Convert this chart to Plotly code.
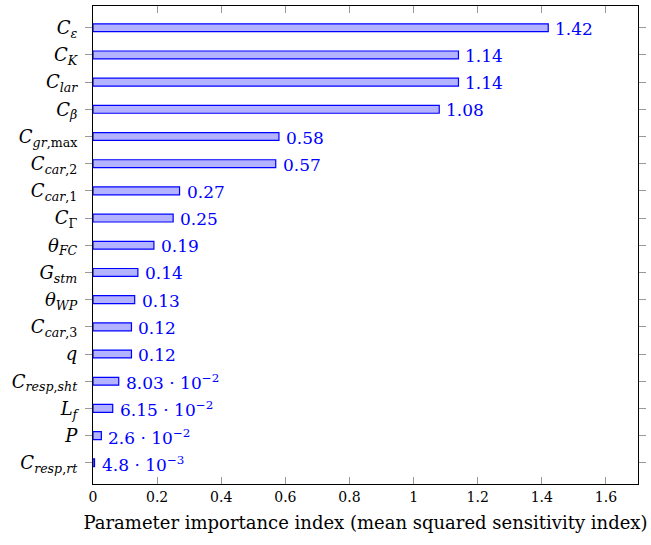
import plotly.graph_objects as go

# Parameter names (HTML-formatted math) and their importance indices, top to bottom
params = [
    "<i>C</i><sub><i>ε</i></sub>",
    "<i>C</i><sub><i>K</i></sub>",
    "<i>C</i><sub><i>lar</i></sub>",
    "<i>C</i><sub><i>β</i></sub>",
    "<i>C</i><sub><i>gr</i>,max</sub>",
    "<i>C</i><sub><i>car</i>,2</sub>",
    "<i>C</i><sub><i>car</i>,1</sub>",
    "<i>C</i><sub>Γ</sub>",
    "<i>θ</i><sub><i>FC</i></sub>",
    "<i>G</i><sub><i>stm</i></sub>",
    "<i>θ</i><sub><i>WP</i></sub>",
    "<i>C</i><sub><i>car</i>,3</sub>",
    "<i>q</i>",
    "<i>C</i><sub><i>resp</i>,<i>sht</i></sub>",
    "<i>L</i><sub><i>f</i></sub>",
    "<i>P</i>",
    "<i>C</i><sub><i>resp</i>,<i>rt</i></sub>",
]
importance = [1.42, 1.14, 1.14, 1.08, 0.58, 0.57, 0.27, 0.25, 0.19, 0.14,
              0.13, 0.12, 0.12, 0.0803, 0.0615, 0.026, 0.0048]

x_ticks = [0, 0.2, 0.4, 0.6, 0.8, 1, 1.2, 1.4, 1.6]
x_ticktext = ["0", "0.2", "0.4", "0.6", "0.8", "1", "1.2", "1.4", "1.6"]

FONT = "DejaVu Serif"
BLUE = "#0000FF"


def fmt_value(v):
    """Format like pgfplots: fixed for >= 0.1, otherwise m · 10^e."""
    if v >= 0.1:
        return f"{v:.2f}"
    exp = 0
    m = v
    while m < 1:
        m *= 10
        exp -= 1
    mant = f"{m:.2f}".rstrip("0").rstrip(".")
    return f"{mant} · 10<sup>−{abs(exp)}</sup>"


ypos = list(range(len(params)))

fig = go.Figure()
fig.add_trace(go.Bar(
    x=importance,
    y=ypos,
    orientation="h",
    width=0.29,
    marker=dict(color="#B3B3FF", line=dict(color=BLUE, width=1.2)),
    hoverinfo="skip",
))

for v, y in zip(importance, ypos):
    fig.add_annotation(
        x=v, y=y, text=fmt_value(v), showarrow=False,
        xanchor="left", yanchor="middle", xshift=5, yshift=-1,
        font=dict(family=FONT, size=17, color=BLUE),
    )

fig.update_layout(
    width=651, height=545,
    margin=dict(l=93, r=11, t=5, b=61),
    paper_bgcolor="white", plot_bgcolor="white",
    showlegend=False,
    font=dict(family=FONT, color="black"),
)
fig.update_xaxes(
    range=[0, 1.7],
    tickvals=x_ticks, ticktext=x_ticktext,
    ticks="inside", ticklen=7, tickcolor="#999999", tickwidth=1,
    showgrid=False, zeroline=False,
    showline=True, linecolor="black", linewidth=1.3, mirror="ticks",
    tickfont=dict(family=FONT, size=14, color="black"),
    title=dict(text="Parameter importance index (mean squared sensitivity index)",
               font=dict(family=FONT, size=18, color="black"), standoff=12),
)
fig.update_yaxes(
    range=[16.78, -0.8],
    tickvals=ypos, ticktext=params,
    ticks="outside", ticklen=7, tickcolor="#999999", tickwidth=1,
    ticklabelstandoff=4,
    showgrid=False, zeroline=False,
    showline=True, linecolor="black", linewidth=1.3, mirror="ticks",
    tickfont=dict(family=FONT, size=18, color="black"),
)

fig.write_html("out.html")
